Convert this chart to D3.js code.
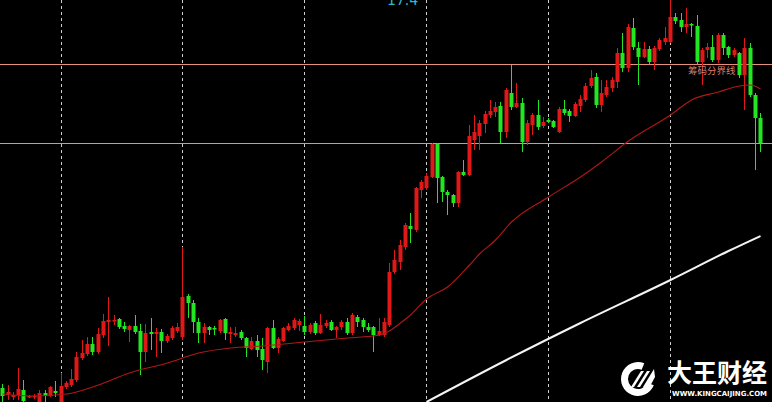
<!DOCTYPE html>
<html><head><meta charset="utf-8">
<script src="https://cdn.jsdelivr.net/npm/d3@7"></script>
<style>html,body{margin:0;padding:0;background:#000;overflow:hidden}svg{display:block}</style>
</head><body>
<svg id="c" width="772" height="402"></svg>
<script>
// ---- data (price points) ----
const openP = [1612,1606,1603,1605,1610,1603,1603,1598,1607,1604,1609,1598,1613,1615,1620,1642,1646,1656,1648,1665,
1678,1679,1681,1674,1670,1674,1669,1648,1668,1666,1668,1659,1662,1669,1663,1704,1697,1678,1667,1673,
1672,1669,1681,1666,1665,1668,1662,1651,1659,1651,1638,1672,1652,1659,1670,1672,1675,1674,1668,1677,
1667,1674,1678,1670,1673,1678,1667,1683,1680,1673,1673,1665,1665,1675,1728,1738,1753,1774,1770,1810,
1812,1823,1856,1823,1808,1805,1797,1828,1825,1860,1864,1876,1885,1888,1894,1868,1907,1893,1897,1858,
1875,1885,1874,1880,1879,1868,1891,1889,1884,1894,1900,1914,1923,1895,1905,1912,1918,1947,1932,1972,
1952,1943,1951,1938,1951,1958,1958,1983,1980,1973,1976,1974,1938,1950,1953,1940,1965,1953,1945,1947,
1925,1952,1905,1882];
const highP = [1616,1615,1608,1632,1620,1605,1606,1610,1610,1614,1619,1627,1619,1631,1648,1660,1663,1663,1672,1686,
1703,1685,1682,1678,1675,1685,1676,1676,1682,1672,1671,1666,1674,1677,1753,1706,1700,1682,1677,1674,
1674,1681,1682,1673,1673,1670,1663,1663,1665,1662,1673,1680,1663,1673,1677,1682,1681,1684,1677,1679,
1686,1680,1680,1674,1680,1682,1687,1685,1682,1677,1674,1682,1682,1737,1750,1760,1777,1787,1813,1820,
1827,1857,1857,1824,1810,1806,1829,1840,1875,1885,1880,1889,1900,1898,1898,1912,1935,1917,1902,1880,
1887,1900,1883,1882,1880,1893,1900,1891,1898,1905,1917,1930,1927,1920,1920,1923,1952,1967,1976,1982,
1958,1958,1954,1954,1962,1973,2002,1987,1987,1992,1977,1985,1952,1957,1965,1967,1967,1954,1952,1948,
1962,1957,1907,1887];
const lowP = [1598,1600,1600,1600,1598,1602,1601,1596,1598,1603,1603,1596,1611,1613,1618,1640,1644,1645,1646,1662,
1654,1675,1671,1668,1658,1666,1625,1638,1650,1643,1647,1657,1660,1667,1660,1682,1667,1657,1657,1665,
1665,1667,1660,1657,1663,1660,1643,1650,1643,1630,1627,1651,1647,1658,1669,1670,1669,1665,1666,1665,
1666,1672,1669,1662,1670,1665,1665,1673,1668,1668,1648,1664,1663,1673,1726,1730,1750,1757,1768,1802,
1810,1822,1797,1798,1785,1793,1793,1824,1824,1850,1850,1867,1882,1883,1857,1862,1890,1892,1848,1855,
1865,1870,1872,1877,1872,1867,1885,1878,1883,1888,1898,1912,1892,1888,1903,1908,1912,1928,1928,1950,
1915,1942,1935,1930,1949,1955,1957,1976,1968,1967,1963,1935,1915,1942,1938,1937,1945,1942,1943,1922,
1890,1903,1830,1848];
const closeP = [1604,1608,1605,1611,1599,1604,1604,1607,1604,1613,1607,1614,1617,1621,1643,1647,1656,1648,1666,1679,
1680,1680,1673,1671,1674,1668,1648,1667,1666,1668,1659,1664,1672,1673,1703,1697,1678,1667,1673,1670,
1671,1680,1667,1668,1667,1662,1652,1659,1650,1640,1672,1652,1661,1672,1674,1680,1679,1668,1675,1667,
1675,1677,1670,1673,1678,1667,1685,1678,1673,1670,1665,1669,1678,1728,1740,1755,1775,1771,1812,1818,
1824,1856,1822,1808,1805,1797,1828,1825,1864,1868,1877,1886,1889,1893,1868,1910,1893,1897,1858,1877,
1885,1873,1878,1878,1873,1891,1887,1884,1896,1901,1914,1922,1895,1907,1913,1920,1947,1932,1973,1953,
1943,1951,1938,1952,1960,1962,1983,1979,1973,1976,1975,1938,1950,1953,1940,1965,1952,1945,1950,1925,
1952,1905,1882,1857];
const maRedIdx = [0,6,12,18,24,31,37,43,49,57,65,71,73,75,77,80,84,88,90,93,96,103,109,113,118,126,130,135,139,141,143];
const maRedVal = [1606,1604,1606,1615,1627,1637,1647,1652,1654,1658,1662,1665,1669,1677,1685,1701,1713,1735,1746,1760,1778,1803,1823,1838,1859,1885,1900,1908,1914,1915,1911];
const maWhiteIdx = [80,95,109,126,137,143];
const maWhiteVal = [1598,1640,1677,1720,1749,1764];
const separatorIdx = [11,34,57,80,103,126];
const levelValues = [1936, 1857];
const levelLabel = "筹码分界线";
const topLabel = "17.4";
const brandName = "大王财经";
const brandUrl = "WWW.KINGCAIJING.COM";

// ---- drawing ----
const W = 772, H = 402;
const svg = d3.select("#c");
svg.append("rect").attr("width", W).attr("height", H).attr("fill", "#000");

const idx = d3.range(openP.length);
const x = d3.scaleBand().domain(idx).range([0.65, 0.65 + 5.3 * idx.length]).paddingInner(0.2).paddingOuter(0.1);
const cx = i => Math.round(x(i) + x.bandwidth() / 2);
const y = d3.scaleLinear().domain([1598, 2000]).range([H, 0]);

// separators
svg.append("g").selectAll("line").data(separatorIdx).join("line")
  .attr("x1", d => cx(d) - 0.5).attr("x2", d => cx(d) - 0.5)
  .attr("y1", 0).attr("y2", H)
  .attr("stroke", "#cfcfcf").attr("stroke-width", 1).attr("stroke-dasharray", "3,3");

// level lines
const levelColors = ["#e8907e", "#a8a8a8"];
svg.append("g").selectAll("line").data(levelValues).join("line")
  .attr("x1", 0).attr("x2", W)
  .attr("y1", d => Math.round(y(d)) + 0.5).attr("y2", d => Math.round(y(d)) + 0.5)
  .attr("stroke", (d, i) => levelColors[i]).attr("stroke-width", 1);

// candles
const up = i => closeP[i] >= openP[i];
const colR = "#e01818", colG = "#22e622";
const g = svg.append("g");
g.selectAll("rect.wick").data(idx).join("rect").attr("class", "wick")
  .attr("x", i => cx(i) - 1).attr("width", 1)
  .attr("y", i => y(highP[i])).attr("height", i => Math.max(1, y(lowP[i]) - y(highP[i])))
  .attr("fill", i => up(i) ? colR : colG);
g.selectAll("rect.body").data(idx).join("rect").attr("class", "body")
  .attr("x", i => cx(i) - 2.5).attr("width", 4)
  .attr("y", i => y(Math.max(openP[i], closeP[i])))
  .attr("height", i => Math.max(1.5, Math.abs(y(openP[i]) - y(closeP[i]))))
  .attr("fill", i => up(i) ? colR : colG);

// moving averages
const line = d3.line().x(d => cx(d[0]) - 0.5).y(d => y(d[1])).curve(d3.curveMonotoneX);
svg.append("path").datum(d3.zip(maRedIdx, maRedVal)).attr("d", line)
  .attr("fill", "none").attr("stroke", "#b01818").attr("stroke-width", 1.1);
svg.append("path").datum(d3.zip(maWhiteIdx, maWhiteVal)).attr("d", line)
  .attr("fill", "none").attr("stroke", "#f4f4f4").attr("stroke-width", 2);

// level label
svg.append("text").attr("x", 688).attr("y", y(levelValues[0]) + 9.5)
  .attr("font-family", "'Noto Sans CJK SC', sans-serif").attr("font-size", 9.5)
  .attr("fill", "#d88070").text(levelLabel);

// top label (clipped by the top edge, as in the reference)
svg.append("text").attr("x", 387).attr("y", 5)
  .attr("font-family", "DejaVu Sans, sans-serif").attr("font-size", 14)
  .attr("fill", "#30b8c8").text(topLabel);

// logo
const logo = svg.append("g");
const arc = d3.arc().innerRadius(10).outerRadius(17).startAngle(Math.PI * 0.62).endAngle(Math.PI * 2.12);
logo.append("path").attr("d", arc()).attr("transform", "translate(638,379)").attr("fill", "#fff");
logo.append("path").attr("d", "M631,387 L641,371 L644,371 L634,387 Z M637,387 L647,371 L650,371 L640,387 Z")
  .attr("fill", "#fff");
logo.append("path").attr("d", "M643,387 L654,369 L655,377 L648,390 Z").attr("fill", "#fff");
logo.append("text").attr("x", 667).attr("y", 382)
  .attr("font-family", "'Noto Sans CJK SC', sans-serif").attr("font-weight", 700).attr("font-size", 25)
  .attr("textLength", 100).attr("lengthAdjust", "spacingAndGlyphs")
  .attr("fill", "#fff").text(brandName);
logo.append("text").attr("x", 672).attr("y", 396)
  .attr("font-family", "'DejaVu Sans', sans-serif").attr("font-weight", 700).attr("font-size", 7)
  .attr("textLength", 95).attr("lengthAdjust", "spacingAndGlyphs")
  .attr("fill", "#fff").text(brandUrl);
</script>
</body></html>
